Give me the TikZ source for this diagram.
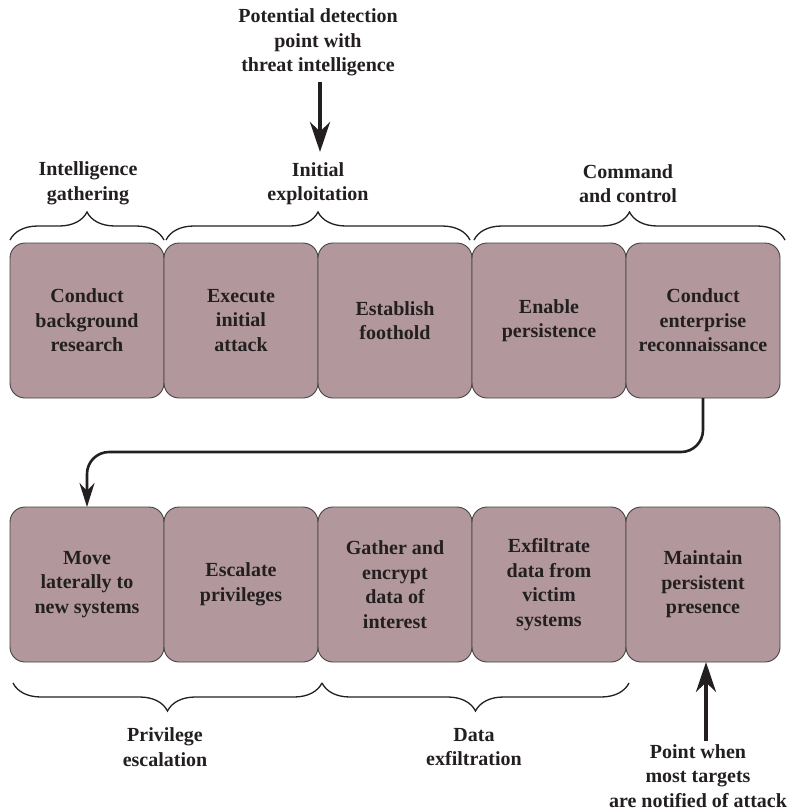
\documentclass[tikz,border=0pt]{standalone}
\usepackage{fontspec}
\setmainfont{Liberation Serif}
\usepackage{tikz}
\usetikzlibrary{arrows.meta, positioning, calc, decorations.pathreplacing}
\definecolor{stagefill}{HTML}{B2989D}
\definecolor{inkdark}{HTML}{231F20}

\begin{document}
\begin{tikzpicture}[x=1pt, y=1pt,
    font=\bfseries\fontsize{20}{24.5}\selectfont, text=inkdark,
    stage/.style={draw=inkdark!85, line width=0.9pt, fill=stagefill, rounded corners=15pt,
        minimum width=154pt, minimum height=155pt, inner sep=0pt, outer sep=0pt, align=center},
    phase/.style={align=center, inner sep=0pt},
    curly/.style={decorate, decoration={brace, amplitude=28pt}, line width=1.3pt, draw=inkdark},
    flow/.style={line width=2.6pt, draw=inkdark, rounded corners=22pt, -{Stealth[length=24pt, width=15pt]}},
    alert/.style={line width=4.5pt, draw=inkdark, -{Stealth[length=30pt, width=20pt]}}]
    \useasboundingbox (0,0) rectangle (804,-812);

    \node[stage] (t1) at (87,-320.5) {Conduct\\background\\research};
    \node[stage, right=0pt of t1] (t2) {Execute\\initial\\attack};
    \node[stage, right=0pt of t2] (t3) {Establish\\foothold};
    \node[stage, right=0pt of t3] (t4) {Enable\\persistence};
    \node[stage, right=0pt of t4] (t5) {Conduct\\enterprise\\reconnaissance};

    \node[stage] (b1) at (87,-584.5) {Move\\laterally to\\new systems};
    \node[stage, right=0pt of b1] (b2) {Escalate\\privileges};
    \node[stage, right=0pt of b2] (b3) {Gather and\\encrypt\\data of\\interest};
    \node[stage, right=0pt of b3] (b4) {Exfiltrate\\data from\\victim\\systems};
    \node[stage, right=0pt of b4] (b5) {Maintain\\persistent\\presence};

    \node[phase] (detect) at (318,-42.5) {Potential detection\\point with\\threat intelligence};
    \node[phase] (gather) at (88,-183.5) {Intelligence\\gathering};
    \node[phase] (exploit) at (318,-183.5) {Initial\\exploitation};
    \node[phase] (command) at (628,-183.5) {Command\\and control};
    \node[phase] (escalate) at (165,-747) {Privilege\\escalation};
    \node[phase] (exfil) at (474,-747) {Data\\exfiltration};
    \node[phase] (notify) at (698,-776) {Point when\\most targets\\are notified of attack};

    \draw[curly] ([yshift=3pt]t1.north west) -- ([yshift=3pt]t1.north east);
    \draw[curly] ([xshift=2pt,yshift=3pt]t2.north west) -- ([xshift=-2pt,yshift=3pt]t3.north east);
    \draw[curly] ([xshift=2pt,yshift=3pt]t4.north west) -- ([xshift=5pt,yshift=3pt]t5.north east);
    \draw[curly] ([xshift=4pt,yshift=-21pt]b2.south east) -- ([xshift=3pt,yshift=-21pt]b1.south west);
    \draw[curly] ([xshift=3pt,yshift=-21pt]b4.south east) -- ([xshift=4pt,yshift=-21pt]b3.south west);

    \draw[alert, shorten <=6pt, shorten >=10pt] ([xshift=2pt]detect.south) -- ([xshift=2pt]exploit.north);
    \draw[alert, shorten <=3pt] ([xshift=3pt]b5.south |- notify.north) -- ([xshift=3pt]b5.south);
    \draw[flow] (t5.south) -- ++(0,-54) -| (b1.north);
\end{tikzpicture}
\end{document}
